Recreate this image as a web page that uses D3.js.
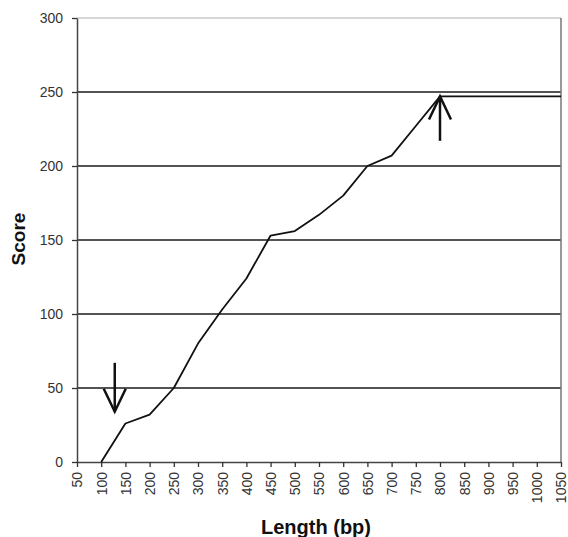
<!DOCTYPE html>
<html>
<head>
<meta charset="utf-8">
<script src="https://cdn.jsdelivr.net/npm/d3@7"></script>
<style>
  body { margin: 0; background: #fff; }
  text { font-family: "Liberation Sans", Arial, Helvetica, sans-serif; }
</style>
</head>
<body>
<div id="chart"></div>
<script>
// Data
const lengths = [100, 150, 200, 250, 300, 350, 400, 450, 500, 550, 600, 650, 700, 750, 800, 850, 900, 950, 1000, 1050];
const scores  = [0, 26, 32, 50, 80, 103, 124, 153, 156, 167, 180, 200, 207, 227, 247, 247, 247, 247, 247, 247];
const xTicks = d3.range(50, 1051, 50);
const yTicks = [0, 50, 100, 150, 200, 250, 300];
// Annotation arrows: [x, tailY, tipY]
const arrows = [[128, 67, 34], [800, 217, 247]];

const margin = { top: 18, right: 7, bottom: 75, left: 77 };
const width = 568 - margin.left - margin.right;
const height = 537 - margin.top - margin.bottom;

const svg = d3.select("#chart")
    .append("svg")
    .attr("width", 568)
    .attr("height", 537)
    .append("g")
    .attr("transform", `translate(${margin.left},${margin.top})`);

const x = d3.scaleLinear().domain([50, 1050]).range([0, width]);
const y = d3.scaleLinear().domain([0, 300]).range([height, 0]);

// Grid lines
svg.selectAll(".grid")
    .data(yTicks.filter(d => d > 0))
    .enter()
    .append("line")
    .attr("x1", 0)
    .attr("x2", width)
    .attr("y1", d => y(d))
    .attr("y2", d => y(d))
    .attr("stroke", d => d === 300 ? "#c8c8c8" : "#1a1a1a")
    .attr("stroke-width", 1.3);

// Right border
svg.append("line")
    .attr("x1", width).attr("x2", width)
    .attr("y1", 0).attr("y2", height)
    .attr("stroke", "#777")
    .attr("stroke-width", 1.5);

// Axes
const yAxis = svg.append("g")
    .call(d3.axisLeft(y).tickValues(yTicks).tickSize(5).tickSizeOuter(0));
const xAxis = svg.append("g")
    .attr("transform", `translate(0,${height})`)
    .call(d3.axisBottom(x).tickValues(xTicks).tickFormat(d3.format("d")).tickSize(5).tickSizeOuter(0));

[xAxis, yAxis].forEach(a => {
    a.select(".domain").attr("stroke", "#444").attr("stroke-width", 1.5);
    a.selectAll(".tick line").attr("stroke", "#333").attr("stroke-width", 1.3);
    a.selectAll("text").attr("fill", "#333").style("font-size", "14px");
});
yAxis.selectAll("text").attr("x", -14);
xAxis.selectAll("text")
    .attr("transform", "rotate(-90)")
    .attr("text-anchor", "end")
    .attr("dy", "0.35em")
    .attr("x", -10)
    .attr("y", 0);

// Data line
const line = d3.line()
    .x((d, i) => x(lengths[i]))
    .y(d => y(d));

svg.append("path")
    .datum(scores)
    .attr("d", line)
    .attr("fill", "none")
    .attr("stroke", "#111")
    .attr("stroke-width", 1.8)
    .attr("stroke-linejoin", "round");

// Arrows
arrows.forEach(([ax, from, to]) => {
    const dir = to > from ? 1 : -1;
    const g = svg.append("g").attr("stroke", "#111").attr("stroke-width", 2.5).attr("fill", "none");
    g.append("line")
        .attr("x1", x(ax)).attr("x2", x(ax))
        .attr("y1", y(from)).attr("y2", y(to));
    g.append("path")
        .attr("d", `M${x(ax) - 11},${y(to) + dir * 23}L${x(ax)},${y(to)}L${x(ax) + 11},${y(to) + dir * 23}`);
});

// Axis titles
svg.append("text")
    .attr("x", width / 2 - 3)
    .attr("y", height + 72)
    .attr("text-anchor", "middle")
    .style("font-size", "20px")
    .style("font-weight", "bold")
    .attr("fill", "#111")
    .text("Length (bp)");

svg.append("text")
    .attr("transform", "rotate(-90)")
    .attr("x", -(y(150)) + 1)
    .attr("y", -margin.left + 25)
    .attr("text-anchor", "middle")
    .style("font-size", "19px")
    .style("font-weight", "bold")
    .attr("fill", "#111")
    .text("Score");
</script>
</body>
</html>
